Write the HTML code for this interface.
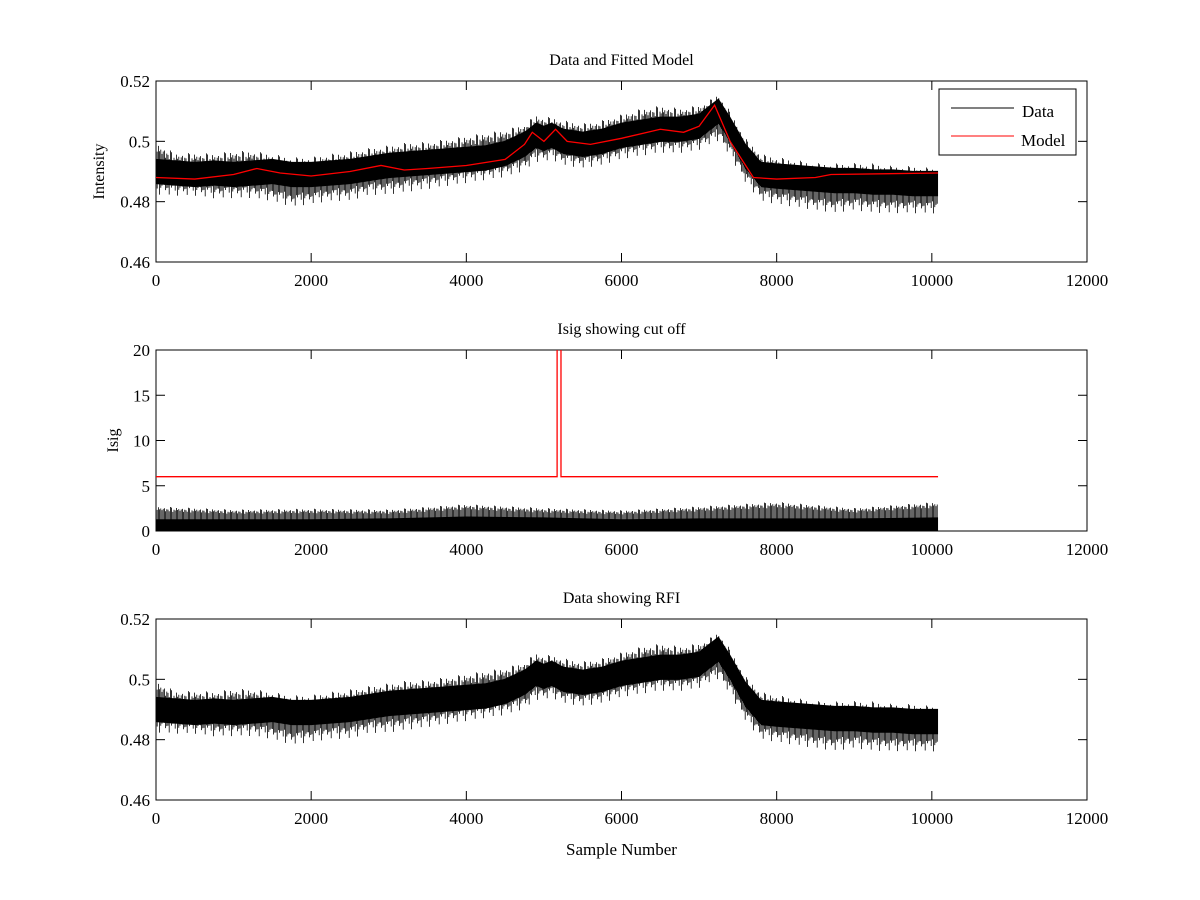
<!DOCTYPE html>
<html><head><meta charset="utf-8"><style>
body{margin:0;background:#fff;}
svg{display:block;font-family:"Liberation Serif",serif;}
</style></head><body>
<svg id="fig" width="1200" height="900" viewBox="0 0 1200 900"></svg>
<script>
// ---- data ----
const xTicks=[0,2000,4000,6000,8000,10000,12000];
const intTicks=[0.46,0.48,0.5,0.52];
const isigTicks=[0,5,10,15,20];
const dataX=[0,250,500,750,1000,1250,1500,1750,2000,2250,2500,2750,3000,3250,3500,3750,4000,4250,4500,4750,4900,5000,5100,5250,5500,5750,6000,6250,6500,6750,7000,7150,7250,7400,7600,7800,8000,8250,8500,8750,9000,9250,9500,9750,10080];
const dataCenter=[0.490,0.4895,0.489,0.4895,0.489,0.4895,0.490,0.489,0.489,0.4895,0.490,0.491,0.492,0.4925,0.493,0.4935,0.494,0.4945,0.496,0.499,0.502,0.501,0.502,0.500,0.499,0.500,0.502,0.503,0.504,0.504,0.505,0.508,0.510,0.504,0.495,0.489,0.4885,0.488,0.4875,0.487,0.487,0.4865,0.4865,0.486,0.486];
const dataHalfBand=[0.0042];
const dataSpikeHi=[0.503,0.499,0.499,0.499,0.500,0.500,0.499,0.498,0.498,0.499,0.500,0.501,0.502,0.503,0.503,0.504,0.505,0.506,0.507,0.509,0.512,0.511,0.511,0.510,0.509,0.510,0.512,0.514,0.515,0.514,0.515,0.517,0.519,0.513,0.504,0.499,0.498,0.497,0.496,0.496,0.496,0.496,0.495,0.495,0.494];
const dataSpikeLo=[0.480,0.480,0.480,0.479,0.479,0.479,0.478,0.476,0.477,0.478,0.478,0.480,0.480,0.481,0.482,0.483,0.484,0.485,0.486,0.488,0.491,0.491,0.492,0.490,0.489,0.490,0.492,0.493,0.494,0.494,0.495,0.497,0.498,0.493,0.484,0.478,0.477,0.476,0.475,0.474,0.475,0.474,0.474,0.474,0.474];
const modelX=[0,500,1000,1300,1600,2000,2500,2900,3200,3500,4000,4500,4750,4850,5000,5150,5300,5600,6000,6500,6800,7000,7200,7400,7700,8000,8500,8700,10080];
const modelY=[0.488,0.4875,0.489,0.491,0.4895,0.4885,0.490,0.492,0.4905,0.491,0.492,0.494,0.499,0.503,0.500,0.504,0.500,0.499,0.501,0.504,0.503,0.505,0.512,0.500,0.488,0.4875,0.488,0.489,0.4895];
const isigX=[0,1000,2000,3000,4000,5000,6000,7000,8000,9000,10080];
const isigDense=[1.3,1.3,1.3,1.4,1.6,1.5,1.3,1.4,1.4,1.4,1.5];
const isigSpike=[3.2,2.8,2.9,2.8,3.5,3.0,2.7,3.2,3.8,3.0,3.8];
const cutX=[0,5170,5170,5220,5220,10080];
const cutY=[6,6,20.5,20.5,6,6];

const NS="http://www.w3.org/2000/svg";
const fig=document.getElementById('fig');
function el(tag,attrs,parent){const e=document.createElementNS(NS,tag);for(const k in attrs)e.setAttribute(k,attrs[k]);(parent||fig).appendChild(e);return e;}
const L=156,R=1087;
function sx(v){return L+(v-0)/(12000-0)*(R-L);}
function mkY(top,bot,min,max){return v=>bot-(v-min)/(max-min)*(bot-top);}

function axes(name,top,bot,yt,fmt,title,ylabel,min,max){
  const g=el('g',{});
  
  
  const sy=mkY(top,bot,min,max);
  const r=el('rect',{x:L,y:top,width:R-L,height:bot-top,fill:'none',stroke:'#000','stroke-width':1},g);
  
  xTicks.forEach(t=>{const x=sx(t);
    el('line',{x1:x,x2:x,y1:bot,y2:bot-9,stroke:'#000'},g);
    el('line',{x1:x,x2:x,y1:top,y2:top+9,stroke:'#000'},g);
    const tx=el('text',{x:x,y:bot+24,'text-anchor':'middle','font-size':17},g);tx.textContent=t;
    });
  yt.forEach(t=>{const y=sy(t);
    el('line',{x1:L,x2:L+9,y1:y,y2:y,stroke:'#000'},g);
    el('line',{x1:R,x2:R-9,y1:y,y2:y,stroke:'#000'},g);
    const tx=el('text',{x:L-6,y:y+6,'text-anchor':'end','font-size':17},g);tx.textContent=fmt(t);
    });
  const tt=el('text',{x:(L+R)/2,y:top-16,'text-anchor':'middle','font-size':16},g);tt.textContent=title;
  
  if(ylabel){const yl=el('text',{x:0,y:0,'text-anchor':'middle','font-size':16,transform:`translate(${ylabel[1]},${(top+bot)/2}) rotate(-90)`},g);yl.textContent=ylabel[0];
    }
  return {g,sy};
}
function band(g,xs,lo,hi,sy,name){
  let d='M'+xs.map((x,i)=>sx(x)+','+sy(hi[i])).join('L')+'L'+xs.slice().reverse().map((x,j)=>{const i=xs.length-1-j;return sx(x)+','+sy(lo[i]);}).join('L')+'Z';
  const p=el('path',{d:d,fill:'#000',stroke:'none'},g);
  return p;
}
const upF=[1,0.45,0.7,0.3,0.85,0.55,0.35,0.65,0.4,0.95,0.5,0.25,0.75,0.6,0.3];
const dnF=[0.6,0.9,0.35,0.7,0.45,1,0.3,0.55,0.8,0.4,0.65,0.95,0.3,0.5,0.75];
function spikes(g,xs,lo,hi,sy,name){
  const gg=el('g',{},g);
  let n=0;let d='';
  const x0=xs[0],x1=xs[xs.length-1];
  let seg=0;
  for(let px=sx(x0);px<=sx(x1);px+=1.2){
    const v=x0+(px-sx(x0))/(sx(x1)-sx(x0))*(x1-x0);
    while(seg<xs.length-2&&v>xs[seg+1])seg++;
    const f=(v-xs[seg])/(xs[seg+1]-xs[seg]);
    const h=hi[seg]+(hi[seg+1]-hi[seg])*f, l=lo[seg]+(lo[seg+1]-lo[seg])*f;
    const c=(h+l)/2;
    const a=0.3+0.7*upF[n%upF.length]*upF[(n*7+3)%upF.length];
    const b=0.3+0.7*dnF[n%dnF.length]*dnF[(n*11+2)%dnF.length];
    d+='M'+px.toFixed(1)+','+sy(c+(h-c)*a).toFixed(1)+'V'+sy(c-(c-l)*b).toFixed(1);
    n++;
  }
  el('path',{d:d,stroke:'#000','stroke-width':0.8,fill:'none'},gg);
}
function polyline(g,xs,ys,sy,color,name){
  const p=el('polyline',{points:xs.map((x,i)=>sx(x)+','+sy(ys[i])).join(' '),fill:'none',stroke:color,'stroke-width':1.3},g);
  return p;
}
const f2=t=>t===0.5?'0.5':t.toFixed(2);

const a1=axes('data-fitted-axes',81,262,intTicks,f2,'Data and Fitted Model',['Intensity',104],0.46,0.52);
spikes(a1.g,dataX,dataSpikeLo,dataSpikeHi,a1.sy,'data-spikes');
band(a1.g,dataX,dataCenter.map(c=>c-dataHalfBand[0]),dataCenter.map(c=>c+dataHalfBand[0]),a1.sy,'data-band');
polyline(a1.g,modelX,modelY,a1.sy,'#ff0000','model-line');
const lg=el('g',{});
el('rect',{x:939,y:89,width:137,height:66,fill:'#fff',stroke:'#000'},lg);
el('line',{x1:951,x2:1014,y1:108,y2:108,stroke:'#000'},lg);
el('line',{x1:951,x2:1014,y1:136,y2:136,stroke:'#ff0000'},lg);
const t1=el('text',{x:1022,y:117,'font-size':17},lg);t1.textContent='Data';
const t2=el('text',{x:1021,y:146,'font-size':17},lg);t2.textContent='Model';

const a2=axes('isig-axes',350,531,isigTicks,t=>String(t),'Isig showing cut off',['Isig',118],0,20);
const clip=el('clipPath',{id:'c2'});el('rect',{x:L,y:350,width:R-L,height:181},clip);
spikes(a2.g,isigX,isigX.map(()=>0),isigSpike,a2.sy,'isig-spikes');
band(a2.g,isigX,isigX.map(()=>0),isigDense,a2.sy,'isig-band');
const cl=polyline(a2.g,cutX,cutY,a2.sy,'#ff0000','cutoff-line');cl.setAttribute('clip-path','url(#c2)');

const a3=axes('rfi-axes',619,800,intTicks,f2,'Data showing RFI',null,0.46,0.52);
spikes(a3.g,dataX,dataSpikeLo,dataSpikeHi,a3.sy,'rfi-spikes');
band(a3.g,dataX,dataCenter.map(c=>c-dataHalfBand[0]),dataCenter.map(c=>c+dataHalfBand[0]),a3.sy,'rfi-band');
const xl=el('text',{x:(L+R)/2,y:855,'text-anchor':'middle','font-size':17});xl.textContent='Sample Number';


</script>
</body></html>
